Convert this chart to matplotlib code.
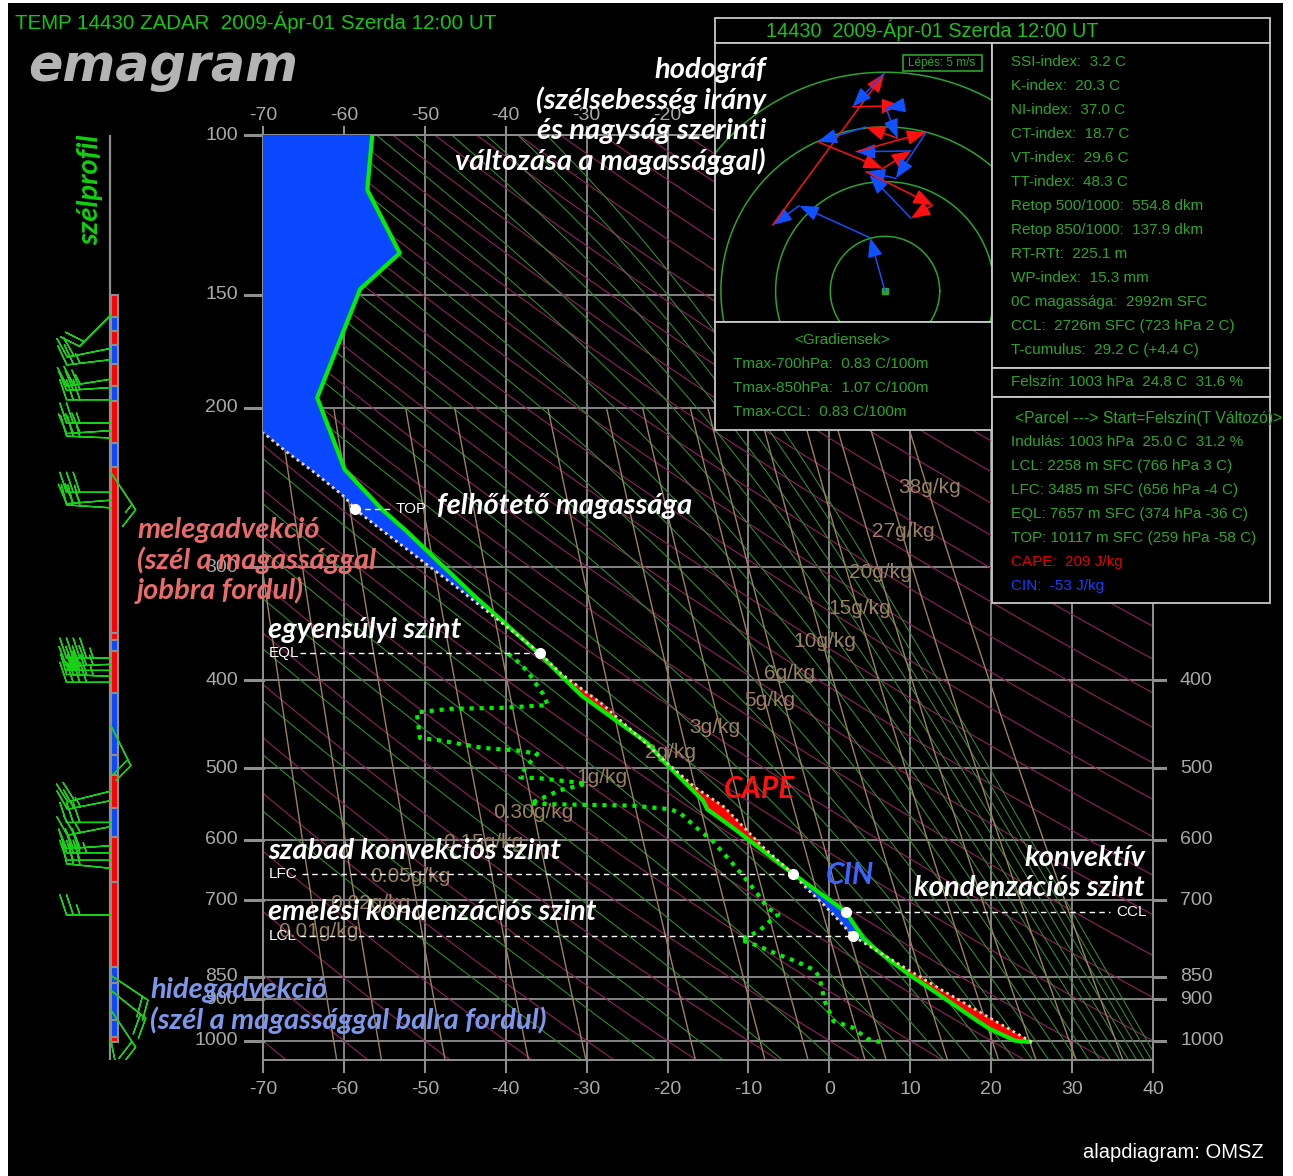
import numpy as np
import matplotlib
matplotlib.use("Agg")
import matplotlib.pyplot as plt
from matplotlib.patches import Rectangle
from matplotlib.transforms import blended_transform_factory
from matplotlib.ticker import NullLocator

W, H = 1293, 1176

# ---------------- sounding ----------------
temp_p = [1003, 1000, 971, 952, 875, 847, 800, 771, 761, 720, 654, 582, 555, 543,
          490, 469, 416, 407, 373, 322, 273, 259, 234, 195, 148, 135, 115, 107, 100]
temp_t = [24.8, 23.0, 19.9, 18.4, 12.4, 10.0, 6.3, 4.2, 3.8, 2.0, -4.5, -11.9, -15.1, -15.6,
          -20.6, -22.5, -30.6, -31.7, -36.0, -44.0, -52.4, -55.3, -59.9, -63.3, -58.0,
          -53.1, -57.1, -56.8, -56.5]

dew_p = [1003, 995, 967, 951, 903, 852, 836, 818, 802, 787, 773, 765, 755, 737, 725, 714,
         688, 665, 632, 602, 582, 560, 555, 550, 548, 547, 529, 520, 513, 512, 500, 482,
         478, 475, 466, 463, 434, 430, 429, 426, 414, 390, 377, 372]
dew_t = [6.3, 4.7, 2.9, 0.5, -0.6, -1.2, -1.8, -4.0, -6.5, -8.6, -11.0, -9.8, -8.6, -7.3,
         -6.3, -7.6, -8.9, -10.2, -12.3, -14.4, -16.4, -18.5, -19.7, -24.3, -34.5, -37.0,
         -33.3, -30.0, -35.8, -38.2, -37.6, -36.1, -38.6, -42.8, -48.1, -50.6, -51.0,
         -46.9, -40.7, -34.8, -35.4, -37.4, -39.1, -40.1]

parcel_p = [1003, 950, 880, 818, 766, 737, 706, 679, 654, 610, 552, 525, 494, 458, 424,
            393, 373, 318, 271, 259, 251, 236, 223, 213]
parcel_t = [25.0, 20.4, 14.0, 8.1, 2.9, 1.2, -0.8, -2.8, -4.5, -8.3, -13.0, -16.6, -20.0,
            -24.0, -28.2, -33.2, -35.8, -45.6, -55.8, -58.6, -59.9, -63.6, -67.3, -70.0]

level_names = ["TOP", "EQL", "LFC", "LCL", "CCL"]
level_p = [259, 373, 654, 766, 720]
level_t = [-58.6, -35.8, -4.5, 2.9, 2.0]

# ---------------- background isopleths ----------------
dry_t1000 = list(range(-80, 341, 10))          # dry adiabats, T at 1000 hPa
moist_thetae = list(range(240, 471, 10))       # pseudo-adiabats, theta-e (K)
mix_ratios = [0.01, 0.02, 0.05, 0.15, 0.3, 1, 2, 3, 5, 6, 10, 15, 20, 27, 38]
mix_labels = ["0.01g/kg", "0.02g/kg", "0.05g/kg", "0.15g/kg", "0.30g/kg", "1g/kg",
              "2g/kg", "3g/kg", "5g/kg", "6g/kg", "10g/kg", "15g/kg", "20g/kg",
              "27g/kg", "38g/kg"]

left_levels = [100, 150, 200, 300, 400, 500, 600, 700, 850, 900, 1000]
right_levels = [400, 500, 600, 700, 850, 900, 1000]
t_ticks = list(range(-70, 41, 10))

# ---------------- wind profile ----------------
shear_p = [150.3, 158.9, 164.7, 170.6, 179.1, 189.4, 196.8, 218.9, 232.7, 354.2, 360.6,
           371.7, 412.6, 483.1, 508.3, 552.7, 595.1, 667.4, 828.5, 862.9, 948.0, 989.9, 1002.6]
shear_col = ["r", "b", "r", "b", "r", "b", "r", "b", "r", "r", "b", "r", "b", "b", "r",
             "b", "r", "r", "b", "b", "b", "r"]

barb_p = [158, 172, 177, 186, 190, 196, 208, 212, 216, 236, 248, 253, 258, 378, 384, 390,
          396, 402, 449, 530, 543, 574, 580, 609, 620, 632, 645, 726, 847, 880, 925, 1000]
barb_u = [15, 20, 25, 25, 30, 30, 25, 30, 25, -8, 30, 25, 30, 45, 45, 50, 45, 40, -10,
          20, 25, 30, 25, 30, 35, 30, 30, 25, -15, -15, -10, -3]
barb_v = [15, 4, 3, 4, 2, 0, 0, 2, -1, 12, 0, 2, -2, 0, 2, 0, -2, 0, 20, 5, 5, 0, 5, 2,
          0, 0, -3, 0, 10, 12, 15, 15]

# ---------------- hodograph (m/s) ----------------
hodo_u = [0, -1.37, -7.83, -10.27, -0.06, -2.95, 1.46, 0.09, 1.16, -1.74, -6.15, -0.21,
          2.38, -2.65, 3.75, 1.0, -1.74, 4.36, 2.38, -1.43]
hodo_v = [0, 4.87, 7.8, 6.03, 19.9, 16.85, 16.94, 16.7, 13.96, 15.0, 13.65, 11.2, 12.8,
          12.73, 14.5, 10.3, 10.9, 7.86, 6.65, 10.6]
hodo_col = ["b", "b", "b", "r", "b", "r", "b", "b", "r", "b", "r", "r", "b", "r", "b",
            "b", "r", "r", "b"]

index_lines = ["SSI-index:  3.2 C", "K-index:  20.3 C", "NI-index:  37.0 C",
               "CT-index:  18.7 C", "VT-index:  29.6 C", "TT-index:  48.3 C",
               "Retop 500/1000:  554.8 dkm", "Retop 850/1000:  137.9 dkm",
               "RT-RTt:  225.1 m", "WP-index:  15.3 mm", "0C magassága:  2992m SFC",
               "CCL:  2726m SFC (723 hPa 2 C)", "T-cumulus:  29.2 C (+4.4 C)"]
parcel_lines = ["Indulás: 1003 hPa  25.0 C  31.2 %", "LCL: 2258 m SFC (766 hPa 3 C)",
                "LFC: 3485 m SFC (656 hPa -4 C)", "EQL: 7657 m SFC (374 hPa -36 C)",
                "TOP: 10117 m SFC (259 hPa -58 C)"]
grad_lines = ["Tmax-700hPa:  0.83 C/100m", "Tmax-850hPa:  1.07 C/100m",
              "Tmax-CCL:  0.83 C/100m"]

# ---------------- colours ----------------
GRID = "#8e8e8e"
TICKTXT = "#a9a9a9"
DRY = "#94205f"
MOIST = "#2f8a2f"
MIX = "#9c8160"
LINE = "#00f000"
RED = "#ff0000"
BLUE = "#0a48ff"
PANEL_GREEN = "#2aa62a"
SANS = "Liberation Sans"
ANN = "Lato"


def fx(x):
    return x / W


def fy(y):
    return 1 - y / H


def ftext(x, y, s, **kw):
    kw.setdefault("va", "center")
    kw.setdefault("zorder", 10)
    return fig.text(fx(x), fy(y), s, **kw)


def px_to_p(y):
    return 10 ** (2 + (y - 135) / 905.0)


def px_to_t(x):
    return (x - 263) / 8.09 - 70


def sat_vap(tc):
    return 6.112 * np.exp(17.67 * tc / (tc + 243.5))


def theta_e_sat(tc, p):
    with np.errstate(all="ignore"):
        es = sat_vap(tc)
        r = 622.0 * es / (p - es)
        tk = tc + 273.15
        val = tk * (1000.0 / p) ** (0.2854 * (1 - 0.00028 * r)) * \
            np.exp((3.376 / tk - 0.00254) * r * (1 + 0.00081 * r))
        return np.where(es < 0.6 * p, val, np.inf)


def moist_line(the, pres):
    lo = np.full_like(pres, -160.0)
    hi = np.full_like(pres, 60.0)
    for _ in range(50):
        mid = 0.5 * (lo + hi)
        above = theta_e_sat(mid, pres) > the
        hi = np.where(above, mid, hi)
        lo = np.where(above, lo, mid)
    return 0.5 * (lo + hi)


def mix_line(w, pres):
    es = w * pres / (622.0 + w)
    lg = np.log(es / 6.112)
    return 243.5 * lg / (17.67 - lg)


fig = plt.figure(figsize=(W / 100, H / 100), dpi=100, facecolor="white")
fig.patches.append(Rectangle((fx(8), 0), fx(1283) - fx(8), fy(3), transform=fig.transFigure,
                             facecolor="black", edgecolor="none", zorder=-10))

# ---------------- main emagram ----------------
ax = fig.add_axes([fx(263), fy(1060), 890 / W, 925 / H])
ax.set_facecolor("none")
ax.set_yscale("log")
ax.set_ylim(1050, 100)
ax.set_xlim(-70, 40)
ax.set_xticks([])
ax.set_yticks([])
ax.yaxis.set_minor_locator(NullLocator())
ax.yaxis.set_major_locator(NullLocator())
for sp in ax.spines.values():
    sp.set_color(GRID)
    sp.set_linewidth(1.4)

for t in t_ticks:
    ax.axvline(t, color=GRID, lw=1.3, zorder=1)
for p in left_levels:
    ax.axhline(p, color=GRID, lw=1.3, zorder=1)

pr = np.logspace(np.log10(100), np.log10(1050), 240)
for t0 in dry_t1000:
    ax.plot((t0 + 273.15) * (pr / 1000.0) ** 0.2857 - 273.15, pr, color=DRY, lw=0.8, zorder=2)
for the in moist_thetae:
    ax.plot(moist_line(float(the), pr), pr, color=MOIST, lw=0.8, zorder=2)
pm = np.logspace(np.log10(200), np.log10(1050), 120)
mix_label_px = [(318, 931), (370, 903), (410, 876), (483, 842), (533, 812), (602, 777),
                (670, 752), (715, 727), (770, 700), (790, 673), (825, 641), (860, 608),
                (880, 572), (903, 531), (930, 487)]
for w, lab, (lx, ly) in zip(mix_ratios, mix_labels, mix_label_px):
    ax.plot(mix_line(w, pm), pm, color=MIX, lw=1.0, zorder=2)
    ax.text(px_to_t(lx), px_to_p(ly), lab, color=MIX, fontsize=15, family=SANS,
            ha="center", va="center", zorder=3, clip_on=True)

# CAPE / CIN areas
pg = np.logspace(np.log10(100), np.log10(1003), 2000)
lp = np.log(pg)
env = np.interp(lp, np.log(temp_p[::-1]), temp_t[::-1])
par = np.interp(lp, np.log(parcel_p[::-1]), parcel_t[::-1])
ax.fill_betweenx(pg, par, env, where=par > env, color=RED, interpolate=True, lw=0, zorder=3)
ax.fill_betweenx(pg, par, env, where=par < env, color=BLUE, interpolate=True, lw=0, zorder=3)

ax.plot(temp_t, temp_p, color=LINE, lw=3.0, zorder=5, solid_joinstyle="round")
ax.plot(dew_t, dew_p, color=LINE, lw=3.0, ls=(0, (1.0, 1.4)), dash_capstyle="butt", zorder=5)
ax.plot(parcel_t, parcel_p, color="#f6d6a6", lw=2.0, ls=(0, (1.0, 1.3)), zorder=6)

# level lines and dots
dash = (0, (4, 3))
ax.plot([px_to_t(300), level_t[1]], [level_p[1]] * 2, color="white", lw=1.0, ls=dash, zorder=6)
ax.plot([px_to_t(302), level_t[2]], [level_p[2]] * 2, color="white", lw=1.0, ls=dash, zorder=6)
ax.plot([px_to_t(300), level_t[3]], [level_p[3]] * 2, color="white", lw=1.0, ls=dash, zorder=6)
ax.plot([level_t[4], px_to_t(1110)], [level_p[4]] * 2, color="white", lw=1.0, ls=dash, zorder=6)
ax.plot([level_t[0], px_to_t(390)], [level_p[0]] * 2, color="white", lw=1.0, ls=dash, zorder=6)
ax.plot(level_t, level_p, "o", color="white", ms=7, zorder=7)
small = dict(color="white", fontsize=11, family=SANS, va="center", zorder=8)
ax.text(px_to_t(269), level_p[1], "EQL", **small)
ax.text(px_to_t(269), level_p[2], "LFC", **small)
ax.text(px_to_t(269), level_p[3], "LCL", **small)
ax.text(px_to_t(1116), level_p[4], "CCL", **small)
ax.text(px_to_t(396), level_p[0], "TOP", **small)

# ticks drawn by hand
ty = blended_transform_factory(ax.transAxes, ax.transData)
tx = blended_transform_factory(ax.transData, ax.transAxes)
for p in left_levels:
    ax.plot([-18 / 890, 0], [p, p], transform=ty, color=GRID, lw=2.2, clip_on=False)
    ax.text(-25 / 890, p, str(p), transform=ty, color=TICKTXT, fontsize=14, family=SANS,
            ha="right", va="center")
for p in right_levels:
    ax.plot([1, 1 + 12 / 890], [p, p], transform=ty, color=GRID, lw=2.2, clip_on=False)
    ax.text(1 + 27 / 890, p, str(p), transform=ty, color=TICKTXT, fontsize=14, family=SANS,
            ha="left", va="center")
for t in t_ticks:
    ax.plot([t, t], [0, -12 / 925], transform=tx, color=GRID, lw=1.5, clip_on=False)
    ax.text(t, -30 / 925, str(t), transform=tx, color=TICKTXT, fontsize=14, family=SANS,
            ha="center", va="center")
    ax.plot([t, t], [1, 1 + 8 / 925], transform=tx, color=GRID, lw=1.5, clip_on=False)
    ax.text(t, 1 + 19 / 925, str(t), transform=tx, color=TICKTXT, fontsize=14, family=SANS,
            ha="center", va="center")

# ---------------- wind profile strip ----------------
wx = fig.add_axes([fx(20), fy(1060), 140 / W, 925 / H])
wx.set_facecolor("none")
wx.set_yscale("log")
wx.set_ylim(1050, 100)
wx.set_xlim(20, 160)
wx.axis("off")
wx.plot([110, 110], [100, 1050], color=GRID, lw=1.6)
for k, c in enumerate(shear_col):
    wx.add_patch(Rectangle((110.5, shear_p[k]), 7, shear_p[k + 1] - shear_p[k],
                           facecolor=RED if c == "r" else BLUE, edgecolor=GRID, lw=1.5))
wx.barbs([111] * len(barb_p), barb_p, barb_u, barb_v, color="#18d018", length=8,
         linewidth=1.0, sizes=dict(emptybarb=0, spacing=0.15, height=0.45, width=0.3),
         zorder=4)

# ---------------- info panel ----------------
boxes = [(715, 18, 1270, 43), (715, 43, 992, 322), (715, 322, 992, 430),
         (992, 43, 1270, 368), (992, 368, 1270, 397), (992, 397, 1270, 603)]
for x0, y0, x1, y1 in boxes:
    fig.patches.append(Rectangle((fx(x0), fy(y1)), (x1 - x0) / W, (y1 - y0) / H,
                                 transform=fig.transFigure, facecolor="black",
                                 edgecolor="#c8c8c8", lw=1.3, zorder=2))

hx = fig.add_axes([fx(716), fy(321), 275 / W, 277 / H])
hx.set_zorder(4)
hx.set_facecolor("black")
hx.set_xlim(-169 / 10.94, 106 / 10.94)
hx.set_ylim(-30 / 10.94, 247 / 10.94)
hx.axis("off")
ang = np.linspace(0, 2 * np.pi, 300)
for r in [5, 10, 15, 20]:
    hx.plot(r * np.cos(ang), r * np.sin(ang), color="#2aa52a", lw=1.1)
hx.plot([0], [0], "s", color="#2aa52a", ms=4)
for k, c in enumerate(hodo_col):
    col = "#ff1010" if c == "r" else "#1050ff"
    hx.annotate("", xy=(hodo_u[k + 1], hodo_v[k + 1]), xytext=(hodo_u[k], hodo_v[k]),
                arrowprops=dict(arrowstyle="-|>,head_length=0.9,head_width=0.35", color=col,
                                lw=1.1, mutation_scale=13, shrinkA=0, shrinkB=0))

fig.patches.append(Rectangle((fx(903), fy(71)), 79 / W, 16 / H, transform=fig.transFigure,
                             facecolor="black", edgecolor="#2aa52a", lw=1.2, zorder=6))
ftext(942, 63, "Lépés: 5 m/s", color="#2aa52a", fontsize=8.5, family=SANS, ha="center")

ftext(766, 30, "14430  2009-Ápr-01 Szerda 12:00 UT", color="#1cc01c", fontsize=14.3, family=SANS)
for k, s in enumerate(index_lines):
    ftext(1011, 62 + 24 * k, s, color=PANEL_GREEN, fontsize=11, family=SANS)
ftext(1011, 382, "Felszín: 1003 hPa  24.8 C  31.6 %", color=PANEL_GREEN, fontsize=11, family=SANS)
ftext(1015, 418, "<Parcel ---> Start=Felszín(T Változó)>", color=PANEL_GREEN, fontsize=11.3,
      family=SANS)
for k, s in enumerate(parcel_lines):
    ftext(1011, 442 + 24 * k, s, color=PANEL_GREEN, fontsize=11, family=SANS)
ftext(1011, 562, "CAPE:  209 J/kg", color="#e00000", fontsize=11, family=SANS)
ftext(1011, 586, "CIN:  -53 J/kg", color="#1040ff", fontsize=11, family=SANS)
ftext(842, 340, "<Gradiensek>", color=PANEL_GREEN, fontsize=11, family=SANS, ha="center")
for k, s in enumerate(grad_lines):
    ftext(733, 364 + 24 * k, s, color=PANEL_GREEN, fontsize=11, family=SANS)

# ---------------- titles and annotations ----------------
ftext(15, 22, "TEMP 14430 ZADAR  2009-Ápr-01 Szerda 12:00 UT", color="#10c810", fontsize=14.8,
      family=SANS)
ftext(28, 67, "emagram", color="#b4b4b4", fontsize=36.5, family="DejaVu Sans",
      fontweight="bold", fontstyle="italic")
ftext(90, 190, "szélprofil", color="#10d010", fontsize=21, family=ANN, fontweight="bold",
      fontstyle="italic", rotation=90, ha="center")

ann = dict(color="white", fontsize=21, family=ANN, fontweight="bold", fontstyle="italic")
for k, s in enumerate(["hodográf", "(szélsebesség irány", "és nagyság szerinti",
                       "változása a magassággal)"]):
    ftext(766, 70 + 30.3 * k, s, ha="right", **ann)
ftext(437, 506, "felhőtető magassága", **ann)
ftext(268, 630, "egyensúlyi szint", **ann)
ftext(268, 851, "szabad konvekciós szint", **ann)
ftext(268, 912, "emelési kondenzációs szint", **ann)
ftext(1145, 858, "konvektív", ha="right", **ann)
ftext(1145, 888, "kondenzációs szint", ha="right", **ann)

warm = dict(ann, color="#ea6b6b")
ftext(137, 530, "melegadvekció", **warm)
ftext(137, 560, "(szél a magassággal", **warm)
ftext(137, 590, "jobbra fordul)", **warm)
cold = dict(ann, color="#7d98ea")
ftext(150, 990, "hidegadvekció", **cold)
ftext(150, 1020, "(szél a magassággal balra fordul)", **cold)

ftext(724, 789, "CAPE", color="#ff1010", fontsize=21.5, family=ANN, fontweight="bold",
      fontstyle="italic")
ftext(826, 875, "CIN", color="#3a66ff", fontsize=21.5, family=ANN, fontweight="bold",
      fontstyle="italic")
ftext(1083, 1153, "alapdiagram: OMSZ", color="white", fontsize=14.5, family=SANS)

fig.savefig("out.png", dpi=100, facecolor=fig.get_facecolor())
